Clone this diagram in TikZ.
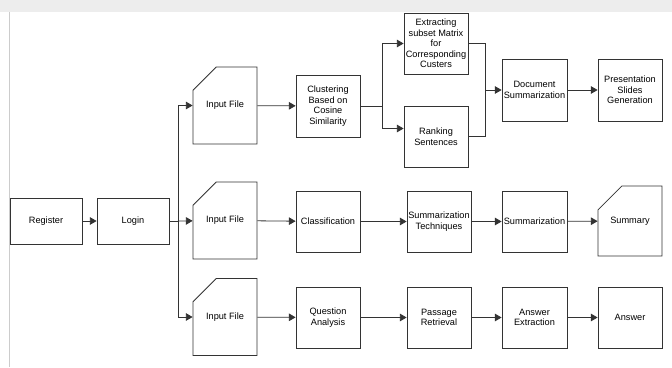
\documentclass[tikz,border=0pt]{standalone}
\usepackage{fontspec}
\setmainfont{Liberation Sans}
\usetikzlibrary{arrows,shapes.misc}

\begin{document}
\begin{tikzpicture}[x=1pt,y=-1pt]
\tikzstyle{block} = [draw, line width=0.8, draw=black!80, minimum width=64, minimum height=61, inner sep=0, align=center, font=\fontsize{9.2}{10.5}\selectfont]
\tikzstyle{login} = [block, minimum width=72, minimum height=46]
\tikzstyle{infile} = [block, chamfered rectangle, chamfered rectangle corners=north west, chamfered rectangle xsep=24, chamfered rectangle ysep=22, minimum height=77]
\tikzstyle{line} = [-triangle 60, line width=0.8, draw=black!80]
\tikzstyle{wire} = [line width=0.8, draw=black!80]

% frame of the screenshot
\useasboundingbox (0,0) rectangle (672,367);
\fill[black!7] (0,0) rectangle (672,12);
\draw[black!20, line width=1] (9.5,12) -- (9.5,367);

% login part
\node [login] (reg) at (46,221) {Register};
\node [login] (login) at (133,221) {Login};

% input files
\node [infile] (in1) at (225,105.5) {Input File};
\node [infile] (in2) at (225,220.5) {Input File};
\node [infile] (in3) at (225,317) {Input File};

% first row
\node [block, minimum height=62] (clus) at (328,106) {Clustering\\Based on\\Cosine\\Similarity};
\node [block] (extr) at (436,43.5) {Extracting\\subset Matrix\\for\\Corresponding\\Custers};
\node [block] (rank) at (436,136.5) {Ranking\\Sentences};
\node [block, minimum width=65, minimum height=62] (docsum) at (534.5,90) {Document\\Summarization};
\node [block, minimum height=62] (pres) at (630,90) {Presentation\\Slides\\Generation};

% second row
\node [block] (cls) at (328,221.5) {Classification};
\node [block] (sumtech) at (439,221.5) {Summarization\\Techniques};
\node [block, minimum width=65] (summ) at (534.5,221.5) {Summarization};
\node [infile, minimum height=70, chamfered rectangle xsep=25, chamfered rectangle ysep=23] (summary) at (630,221) {Summary};

% third row
\node [block] (qa) at (328,317.5) {Question\\Analysis};
\node [block] (pr) at (439,317.5) {Passage\\Retrieval};
\node [block, minimum width=65] (ae) at (534.5,317.5) {Answer\\Extraction};
\node [block] (ans) at (630,317.5) {Answer};

\coordinate (fork) at (178,221);
\coordinate (split) at (382,106);
\coordinate (merge) at (485,90);

\draw [line] (reg) -- (login);
\draw [wire] (login) -- (fork);
\draw [line] (fork) |- (in1);
\draw [line] (fork) -- (in2);
\draw [line] (fork) |- (in3);

\draw [line] (in1) -- (clus);
\draw [wire] (clus) -- (split);
\draw [line] (split) |- (extr);
\draw [line] (split) |- ([yshift=8]rank.west);
\draw [wire] (extr) -| (merge);
\draw [wire] (rank) -| (merge);
\draw [line] (merge) -- (docsum);
\draw [line] (docsum) -- (pres);

\draw [line] (in2) -- (cls);
\draw [line] (cls) -- (sumtech);
\draw [line] (sumtech) -- (summ);
\draw [line] (summ) -- (summary);

\draw [line] (in3) -- (qa);
\draw [line] (qa) -- (pr);
\draw [line] (pr) -- (ae);
\draw [line] (ae) -- (ans);
\end{tikzpicture}
\end{document}
